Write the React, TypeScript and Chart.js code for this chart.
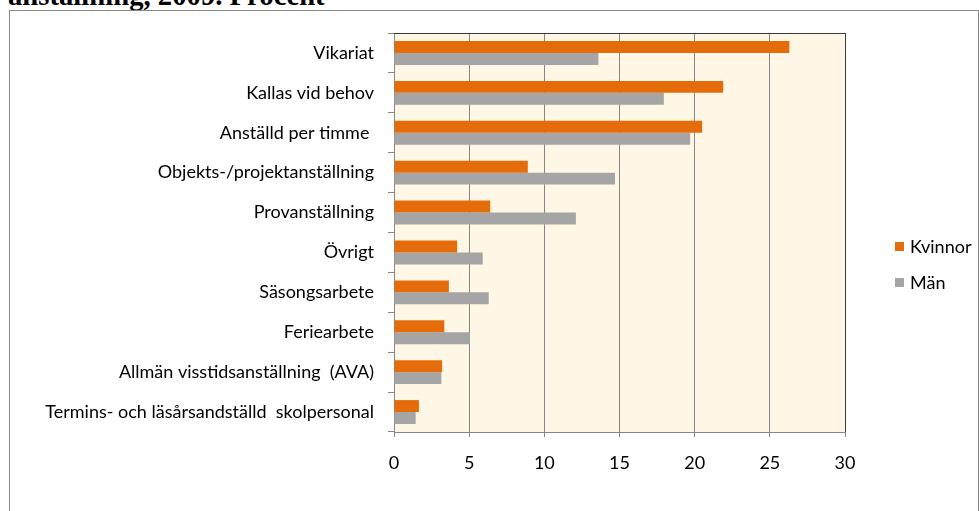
import React, { useEffect, useRef } from 'react';
import { Chart, registerables } from 'chart.js';

Chart.register(...registerables);

const categories = [
  'Vikariat',
  'Kallas vid behov',
  'Anställd per timme ',
  'Objekts-/projektanställning',
  'Provanställning',
  'Övrigt',
  'Säsongsarbete',
  'Feriearbete',
  'Allmän visstidsanställning  (AVA)',
  'Termins- och läsårsandställd  skolpersonal',
];
const kvinnor = [26.3, 21.9, 20.5, 8.9, 6.4, 4.2, 3.65, 3.35, 3.2, 1.66];
const man = [13.6, 17.95, 19.7, 14.7, 12.1, 5.9, 6.3, 5.05, 3.15, 1.44];
const xTicks = [0, 5, 10, 15, 20, 25, 30];
const seriesNames = ['Kvinnor', 'Män'];
const seriesColors = ['#E46C0A', '#A5A5A5'];

const FONT = 'Lato';

const plotDecor = {
  id: 'plotDecor',
  beforeDraw(chart: any) {
    const { ctx, chartArea } = chart;
    ctx.save();
    ctx.fillStyle = '#FFF7E6';
    ctx.fillRect(chartArea.left, chartArea.top, chartArea.right - chartArea.left, chartArea.bottom - chartArea.top);
    ctx.restore();
  },
  afterDraw(chart: any) {
    const { ctx, chartArea } = chart;
    ctx.save();
    ctx.strokeStyle = '#3A3A3A';
    ctx.lineWidth = 1;
    ctx.beginPath();
    ctx.moveTo(chartArea.left, Math.round(chartArea.top) + 0.5);
    ctx.lineTo(Math.round(chartArea.right) + 0.5, Math.round(chartArea.top) + 0.5);
    ctx.lineTo(Math.round(chartArea.right) + 0.5, chartArea.bottom);
    ctx.stroke();
    ctx.restore();
  },
};

export default function App() {
  const ref = useRef<HTMLCanvasElement>(null);

  useEffect(() => {
    if (!ref.current) return;
    const chart = new Chart(ref.current, {
      type: 'bar',
      data: {
        labels: categories,
        datasets: [
          { label: seriesNames[0], data: kvinnor, backgroundColor: seriesColors[0], borderWidth: 0 },
          { label: seriesNames[1], data: man, backgroundColor: seriesColors[1], borderWidth: 0 },
        ],
      },
      options: {
        indexAxis: 'y',
        animation: false,
        responsive: false,
        devicePixelRatio: 1,
        layout: { padding: { left: 0, right: 134, top: 33, bottom: 0 } },
        datasets: { bar: { categoryPercentage: 0.6, barPercentage: 1 } },
        plugins: { legend: { display: false }, title: { display: false }, tooltip: { enabled: false } },
        scales: {
          x: {
            type: 'linear',
            min: xTicks[0],
            max: xTicks[xTicks.length - 1],
            afterFit: (s: any) => { s.height = 79; },
            ticks: { stepSize: xTicks[1] - xTicks[0], color: '#000', font: { family: FONT, size: 18 }, padding: 15 },
            grid: { color: '#868686', lineWidth: 1, tickLength: 5, drawTicks: true },
            border: { color: '#868686', width: 1 },
          },
          y: {
            type: 'category',
            afterFit: (s: any) => { s.width = 394; },
            ticks: { color: '#000', font: { family: FONT, size: 18 }, padding: 14, autoSkip: false },
            grid: { offset: true, drawOnChartArea: false, drawTicks: true, tickLength: 6, color: '#868686' },
            border: { color: '#868686', width: 1 },
          },
        },
      },
      plugins: [plotDecor],
    });
    return () => chart.destroy();
  }, []);

  return (
    <div style={{ position: 'absolute', left: 0, top: 0, width: 979, height: 511, overflow: 'hidden', background: '#fff' }}>
      <div
        style={{
          position: 'absolute', left: 8, top: -19, fontFamily: '"Liberation Serif", serif', fontWeight: 'bold',
          fontSize: 28.7, lineHeight: '28px', whiteSpace: 'nowrap', color: '#000',
        }}
      >
        anställning, 2009. Procent
      </div>
      <div style={{ position: 'absolute', left: 9, top: 10, width: 968, height: 520, border: '1px solid #868686' }} />
      <canvas ref={ref} width={979} height={511} style={{ position: 'absolute', left: 0, top: 0, width: 979, height: 511 }} />
      {seriesNames.map((n, i) => (
        <div key={n} style={{ position: 'absolute', left: 895, top: 235 + i * 36, height: 22, display: 'flex', alignItems: 'center', fontFamily: FONT, fontSize: 18, color: '#000' }}>
          <span style={{ display: 'inline-block', width: 9, height: 9, background: seriesColors[i], marginRight: 6 }} />
          {n}
        </div>
      ))}
    </div>
  );
}
